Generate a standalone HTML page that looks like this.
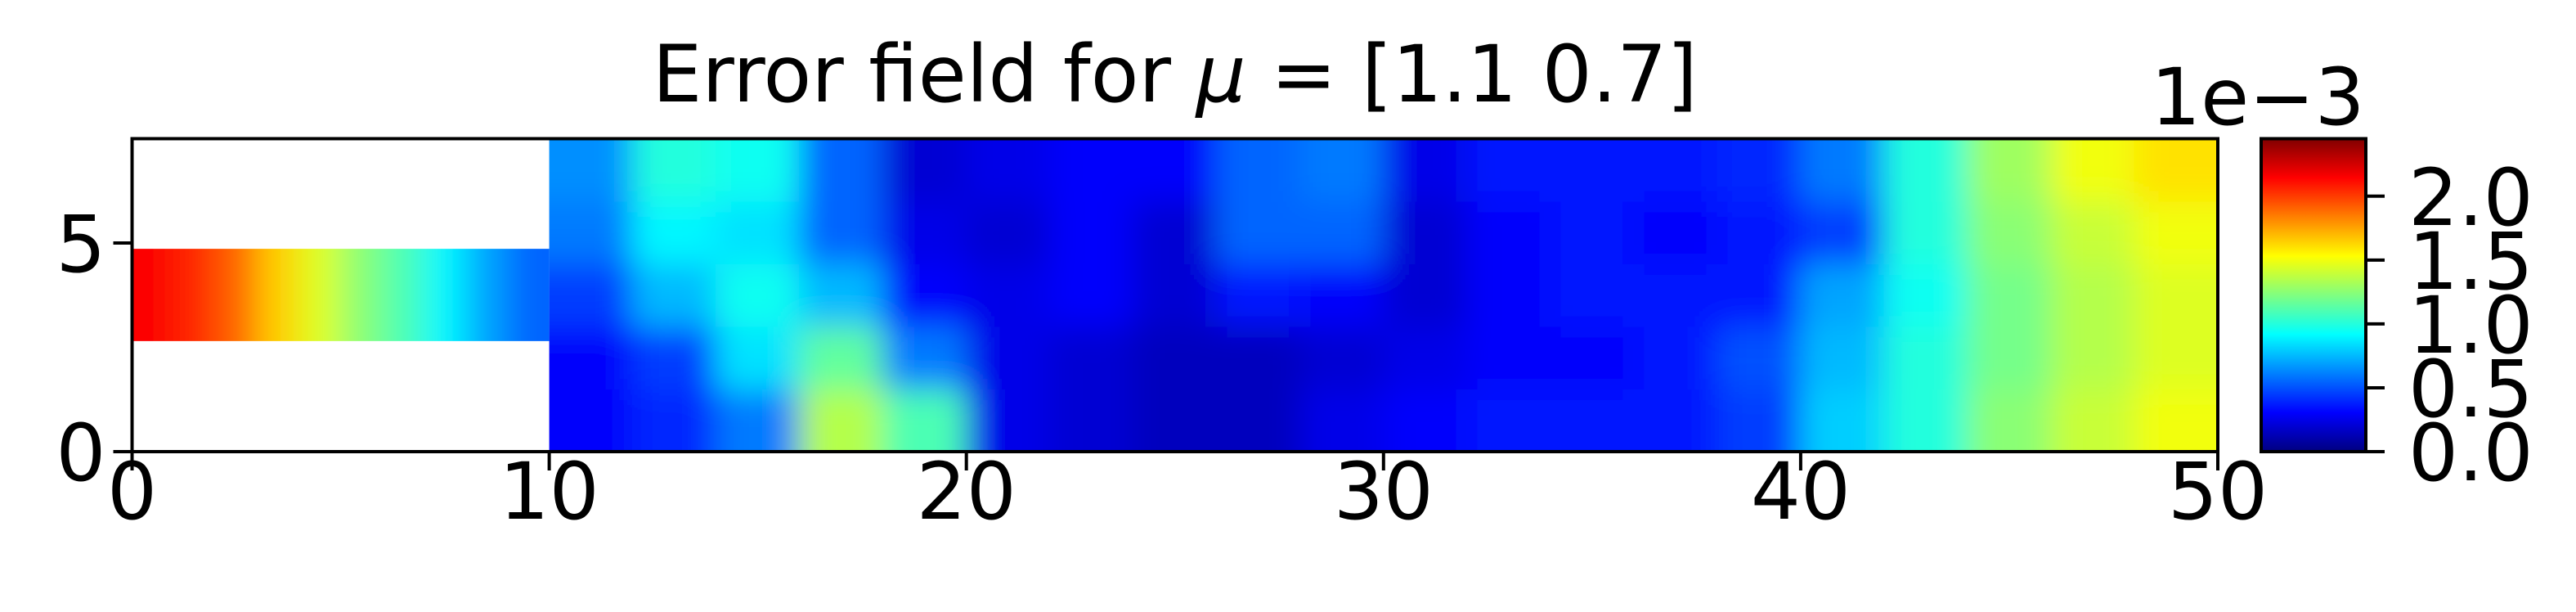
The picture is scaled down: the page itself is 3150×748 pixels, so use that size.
<!DOCTYPE html>
<html><head><meta charset="utf-8">
<style>
html,body{margin:0;padding:0;background:#fff;}
svg{display:block;font-family:"DejaVu Sans","Liberation Sans",sans-serif;}
</style></head>
<body>
<svg id="chart" width="3150" height="748" viewBox="0 0 3150 748" xmlns="http://www.w3.org/2000/svg">
<defs>
<clipPath id="domClip"><path id="domPath"/></clipPath>
<filter id="blurMain" filterUnits="userSpaceOnUse" x="0" y="0" width="3150" height="748">
<feGaussianBlur stdDeviation="20"/></filter>
<linearGradient id="cbGrad" x1="0" y1="1" x2="0" y2="0"></linearGradient>
</defs>
<g id="field"></g>
<g id="axes"></g>
</svg>
<script>
// ---- data (values in units of 1e-3) ----
const xEdgesMain = [10,12,14,16,18,20,22,24,26,28,30,32,34,36,38,40,42,44,46,48,50];
const yEdgesMain = [0,1.5,3,4.5,6,7.5];
// each column: values bottom -> top
const mainValues = [
 [0.30,0.30,0.45,0.60,0.65],
 [0.40,0.45,0.75,0.90,1.00],
 [0.60,0.85,0.95,0.85,0.95],
 [1.35,1.15,0.75,0.55,0.55],
 [1.10,0.60,0.30,0.25,0.20],
 [0.25,0.25,0.25,0.20,0.25],
 [0.20,0.20,0.30,0.30,0.30],
 [0.15,0.15,0.20,0.20,0.30],
 [0.15,0.15,0.35,0.55,0.55],
 [0.25,0.20,0.30,0.55,0.60],
 [0.30,0.25,0.20,0.20,0.25],
 [0.35,0.30,0.30,0.30,0.35],
 [0.35,0.30,0.35,0.35,0.35],
 [0.35,0.35,0.35,0.30,0.35],
 [0.45,0.50,0.35,0.35,0.40],
 [0.80,0.75,0.70,0.45,0.60],
 [1.00,1.00,0.95,1.00,1.00],
 [1.25,1.20,1.20,1.25,1.30],
 [1.40,1.35,1.35,1.40,1.50],
 [1.50,1.45,1.45,1.50,1.60]
];
const xEdgesInlet = [0,1,2,3,4,5,6,7,8,9,10];
const inletY = [2.65,4.86];
const inletValues = [2.15,2.05,1.90,1.65,1.45,1.25,1.10,0.90,0.70,0.55];
const xTicks = [0,10,20,30,40,50];
const xTickLabels = ["0","10","20","30","40","50"];
const yTicks = [0,5];
const yTickLabels = ["0","5"];
const cbTicks = [0,0.5,1.0,1.5,2.0];
const cbTickLabels = ["0.0","0.5","1.0","1.5","2.0"];
const vmin = 0, vmax = 2.45;

// ---- geometry ----
const AX = {l:161.5, r:2712, t:169.5, b:552};
const xMin=0,xMax=50,yMin=0,yMax=7.5;
const sx = v => AX.l + (v-xMin)/(xMax-xMin)*(AX.r-AX.l);
const sy = v => AX.b - (v-yMin)/(yMax-yMin)*(AX.b-AX.t);
const CB = {l:2765, r:2893, t:169.5, b:552};
const sc = v => CB.b - (v-vmin)/(vmax-vmin)*(CB.b-CB.t);
const PAD = 80;
const FS = 96;

function jet(t){
  t=Math.max(0,Math.min(1,t));
  const f=(a)=>Math.max(0,Math.min(1,a));
  const r=f(1.5-Math.abs(4*t-3)), g=f(1.5-Math.abs(4*t-2)), b=f(1.5-Math.abs(4*t-1));
  return `rgb(${Math.round(r*255)},${Math.round(g*255)},${Math.round(b*255)})`;
}
const NS="http://www.w3.org/2000/svg";
function mk(tag,attrs,parent){const e=document.createElementNS(NS,tag);for(const k in attrs)e.setAttribute(k,attrs[k]);parent.appendChild(e);return e;}

const field=document.getElementById('field');
const axes=document.getElementById('axes');

document.getElementById('domPath').setAttribute('d',
 `M${sx(10)},${sy(7.5)}H${sx(50)}V${sy(0)}H${sx(10)}Z`);

const gMainClip=mk('g',{'clip-path':'url(#domClip)'},field);
const gMain=mk('g',{filter:'url(#blurMain)'},gMainClip);


const nC=mainValues.length;
for(let i=0;i<nC;i++){
  const nR=mainValues[i].length;
  for(let j=0;j<nR;j++){
    let x0=sx(xEdgesMain[i]),x1=sx(xEdgesMain[i+1]),y0=sy(yEdgesMain[j+1]),y1=sy(yEdgesMain[j]);
    if(i===0)x0-=PAD; if(i===nC-1)x1+=PAD;
    if(j===0)y1+=PAD; if(j===nR-1)y0-=PAD;
    const r=mk('rect',{x:x0-0.5,y:y0-0.5,width:x1-x0+1,height:y1-y0+1,fill:jet((mainValues[i][j]-vmin)/(vmax-vmin))},gMain);
    
    
  }
}
const inletClip=mk('clipPath',{id:'inClip'},document.querySelector('defs'));
mk('rect',{x:sx(0),y:sy(inletY[1]),width:sx(10)-sx(0),height:sy(inletY[0])-sy(inletY[1])},inletClip);
const gInClip=mk('g',{'clip-path':'url(#inClip)'},field);
const gInlet=mk('g',{filter:'url(#blurMain)'},gInClip);


for(let i=0;i<inletValues.length;i++){
  let x0=sx(xEdgesInlet[i]),x1=sx(xEdgesInlet[i+1]);
  if(i===0)x0-=PAD; if(i===inletValues.length-1)x1+=PAD;
  const r=mk('rect',{x:x0-0.5,y:sy(inletY[1])-PAD,width:x1-x0+1,height:sy(inletY[0])-sy(inletY[1])+2*PAD,fill:jet((inletValues[i]-vmin)/(vmax-vmin))},gInlet);
  
  
}

const frame=mk('rect',{x:AX.l,y:AX.t,width:AX.r-AX.l,height:AX.b-AX.t,fill:'none',stroke:'#000','stroke-width':4},axes);



xTicks.forEach((v,i)=>{
  const x=sx(v);
  const t=mk('line',{x1:x,x2:x,y1:AX.b,y2:AX.b+23,stroke:'#000','stroke-width':4},axes);
  
  
  const l=mk('text',{x:x,y:634,'font-size':FS,'text-anchor':'middle',fill:'#000'},axes);
  l.textContent=xTickLabels[i];
  
  
});
yTicks.forEach((v,i)=>{
  const y=sy(v);
  const t=mk('line',{x1:AX.l-23,x2:AX.l,y1:y,y2:y,stroke:'#000','stroke-width':4},axes);
  
  
  const l=mk('text',{x:AX.l-32,y:y+35,'font-size':FS,'text-anchor':'end',fill:'#000'},axes);
  l.textContent=yTickLabels[i];
  
  
});

const title=mk('text',{x:(AX.l+AX.r)/2,y:124,'font-size':FS,'text-anchor':'middle',fill:'#000'},axes);
title.innerHTML='Error field for <tspan font-style="italic">μ</tspan> = [1.1 0.7]';



const grad=document.getElementById('cbGrad');
for(let k=0;k<=40;k++){mk('stop',{offset:(k/40),'stop-color':jet(k/40)},grad);}
const cb=mk('rect',{x:CB.l,y:CB.t,width:CB.r-CB.l,height:CB.b-CB.t,fill:'url(#cbGrad)',stroke:'#000','stroke-width':4},axes);


cbTicks.forEach((v,i)=>{
  const y=sc(v);
  const t=mk('line',{x1:CB.r,x2:CB.r+23,y1:y,y2:y,stroke:'#000','stroke-width':4},axes);
  
  
  const l=mk('text',{x:2945,y:y+35,'font-size':FS,fill:'#000'},axes);
  l.textContent=cbTickLabels[i];
  
  
});
const off=mk('text',{x:2630,y:152,'font-size':FS,fill:'#000'},axes);
off.textContent='1e−3';


</script>
</body></html>
